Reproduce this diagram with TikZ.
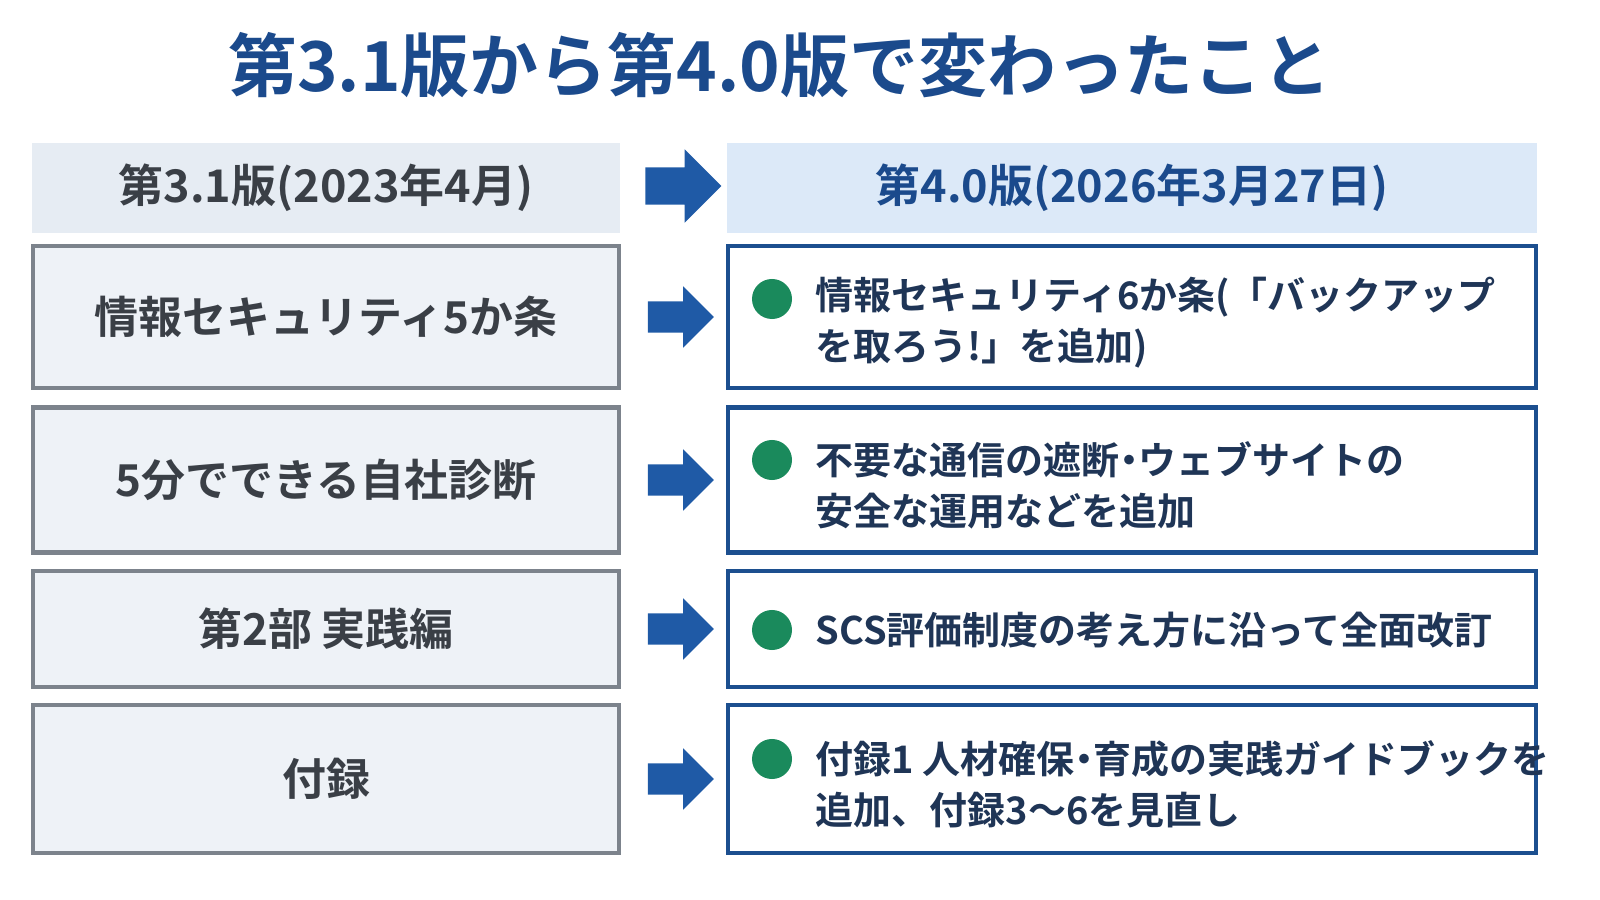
\documentclass[tikz,border=0pt]{standalone}
\usepackage{fontspec}
\setmainfont{Noto Sans CJK JP}[BoldFont={* Bold}]
\usetikzlibrary{positioning,shapes.arrows}

\definecolor{titleblue}{HTML}{1B4A8C}
\definecolor{arrowblue}{HTML}{1F5AA6}
\definecolor{oldfill}{HTML}{EEF2F7}
\definecolor{oldhead}{HTML}{E6ECF3}
\definecolor{newhead}{HTML}{DCE9F8}
\definecolor{oldline}{HTML}{7C838C}
\definecolor{newline}{HTML}{1C4F8F}
\definecolor{oldtext}{HTML}{3A3F46}
\definecolor{newtext}{HTML}{1F3556}
\definecolor{dotgreen}{HTML}{1A8A5C}

\newcommand{\nakaten}{\makebox[0.5em]{・}}

\tikzset{
  old/.style={draw=oldline, line width=1.2pt, fill=oldfill, text=oldtext,
    font=\bfseries\fontsize{12.5}{15}\selectfont, minimum width=5.86cm, inner sep=0pt},
  new/.style={draw=newline, line width=1.2pt, fill=white, minimum width=8.08cm, inner sep=0pt},
  newtxt/.style={text=newtext, font=\bfseries\fontsize{10.8}{14.5}\selectfont, align=left, anchor=west, inner sep=0pt},
  dot/.style={circle, fill=dotgreen, minimum size=0.4cm, inner sep=0pt},
  arr/.style={single arrow, fill=arrowblue, minimum height=0.66cm, inner sep=0.15cm,
    single arrow head extend=0.15cm}
}

\begin{document}
\begin{tikzpicture}[x=0.01cm,y=0.01cm]
  \useasboundingbox (0,0) rectangle (1600,900);
  %title
  \node[text=titleblue, font=\bfseries\fontsize{19.6}{23}\selectfont] (title) at (780,835) {第3.1版から第4.0版で変わったこと};
  %headers
  \node[fill=oldhead, minimum width=5.88cm, minimum height=0.89cm, text=oldtext,
    font=\bfseries\fontsize{12.8}{15}\selectfont] (h1) at (326,712) {第3.1版(2023年4月)};
  \node[fill=newhead, minimum width=8.1cm, minimum height=0.89cm, text=titleblue,
    font=\bfseries\fontsize{12.8}{15}\selectfont] (h2) at (1132,712) {第4.0版(2026年3月27日)};
  \node[arr, minimum height=0.76cm, inner sep=0.18cm, single arrow head extend=0.18cm] (ah) at (674,714) {};
  %rows
  \node[old, minimum height=1.42cm] (o1) at (326,583) {情報セキュリティ5か条};
  \node[old, minimum height=1.45cm] (o2) at (326,420) {5分でできる自社診断};
  \node[old, minimum height=1.16cm] (o3) at (326,271) {第2部 実践編};
  \node[old, minimum height=1.48cm] (o4) at (326,121) {付録};
  \node[new, minimum height=1.42cm] (n1) at (1132,583) {};
  \node[new, minimum height=1.45cm] (n2) at (1132,420) {};
  \node[new, minimum height=1.16cm] (n3) at (1132,271) {};
  \node[new, minimum height=1.48cm] (n4) at (1132,121) {};
  %arrows
  \foreach \i/\y in {1/583,2/420,3/271,4/121}
    \node[arr] (a\i) at (673,\y) {};
  %bullets
  \node[dot] (d1) at (772,601) {}; \node[newtxt] (t1) at (815,577) {情報セキュリティ6か条(「バックアップ\\を取ろう!」を追加)};
  \node[dot] (d2) at (772,440) {}; \node[newtxt] (t2) at (815,415) {不要な通信の遮断\nakaten ウェブサイトの\\安全な運用などを追加};
  \node[dot] (d3) at (772,270) {}; \node[newtxt] (t3) at (815,270) {SCS評価制度の考え方に沿って全面改訂};
  \node[dot] (d4) at (772,141) {}; \node[newtxt] (t4) at (815,116) {付録1 人材確保\nakaten 育成の実践ガイドブックを\\追加、付録3〜6を見直し};
\end{tikzpicture}
\end{document}
